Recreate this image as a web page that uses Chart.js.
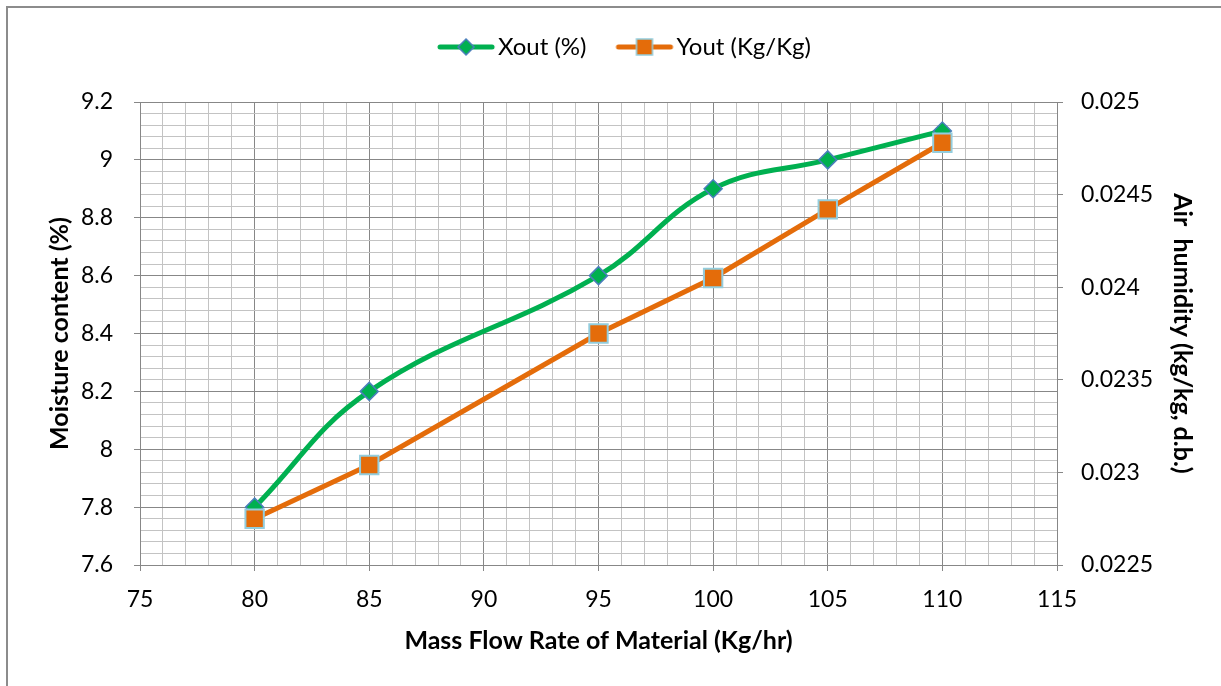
<!DOCTYPE html>
<html>
<head>
<meta charset="utf-8">
<script src="https://cdn.jsdelivr.net/npm/chart.js@4.4.1/dist/chart.umd.min.js"></script>
<style>
  html, body { margin: 0; padding: 0; background: #ffffff; overflow: hidden; }
  #frame { position: absolute; left: 6px; top: 6px; width: 1300px; height: 800px;
           border-left: 2px solid #8c8c8c; border-top: 2px solid #8c8c8c; }
  #wrap { position: absolute; left: 0; top: 0; width: 1221px; height: 686px; }
</style>
</head>
<body>
<div id="frame"></div>
<div id="wrap"><canvas id="c" width="1221" height="686"></canvas></div>
<script>
// ---- data ----
const massFlow = [80, 85, 95, 100, 105, 110];
const xoutValues = [7.8, 8.2, 8.6, 8.9, 9.0, 9.1];
const youtValues = [0.02275, 0.02304, 0.02375, 0.02405, 0.02442, 0.02478];
const seriesNames = ['Xout (%)', 'Yout (Kg/Kg)'];
const xTickRange = [75, 115, 5];          // min, max, major step
const leftTickRange = [7.6, 9.2, 0.2];
const rightTickRange = [0.0225, 0.025, 0.0005];
const axisTitles = ['Mass Flow Rate of Material (Kg/hr)', 'Moisture content (%)', 'Air  humidity (kg/kg, d.b.)'];

// ---- styles ----
const GREEN = '#00b050';
const ORANGE = '#e46c0a';
const MAJOR = '#878787';
const MINOR = '#c3c3c3';
const FONT = 'Lato, "Liberation Sans", sans-serif';
const TICK_SIZE = 23;
const TITLE_SIZE = 25;
const LEGEND_SIZE = 24;

function isMajor(v, step) {
  const r = v / step;
  return Math.abs(r - Math.round(r)) < 1e-6;
}

function legendIcon(kind) {
  const c = document.createElement('canvas');
  c.width = 76; c.height = 24;
  const g = c.getContext('2d');
  g.lineCap = 'round';
  g.lineWidth = 5;
  g.strokeStyle = kind === 'diamond' ? GREEN : ORANGE;
  g.beginPath(); g.moveTo(20, 12); g.lineTo(72, 12); g.stroke();
  const cx = 46, cy = 12;
  if (kind === 'diamond') {
    g.beginPath();
    g.moveTo(cx, cy - 8); g.lineTo(cx + 8, cy); g.lineTo(cx, cy + 8); g.lineTo(cx - 8, cy); g.closePath();
    g.fillStyle = GREEN; g.fill();
    g.lineWidth = 1.5; g.strokeStyle = '#4a7ebb'; g.stroke();
  } else {
    g.fillStyle = ORANGE;
    g.fillRect(cx - 8, cy - 8, 16, 16);
    g.lineWidth = 1.5; g.strokeStyle = '#93cddd';
    g.strokeRect(cx - 8, cy - 8, 16, 16);
  }
  return c;
}
const icons = [legendIcon('diamond'), legendIcon('square')];

// adds empty space between the legend row and the plot area
const legendGap = {
  id: 'legendGap',
  beforeLayout(chart) {
    const lg = chart.legend;
    if (lg && !lg._gapWrapped) {
      const orig = lg.fit.bind(lg);
      lg.fit = function () { orig(); this.height += 33; };
      lg._gapWrapped = true;
    }
  }
};

const ctx = document.getElementById('c').getContext('2d');
new Chart(ctx, {
  type: 'line',
  plugins: [legendGap],
  data: {
    datasets: [
      {
        label: seriesNames[0],
        data: massFlow.map((x, i) => ({ x: x, y: xoutValues[i] })),
        yAxisID: 'yLeft',
        borderColor: GREEN,
        borderWidth: 5,
        tension: 0.4,
        pointStyle: 'rectRot',
        pointRadius: 9,
        pointHoverRadius: 9,
        pointBackgroundColor: GREEN,
        pointBorderColor: '#4a7ebb',
        pointBorderWidth: 1.5,
        order: 1
      },
      {
        label: seriesNames[1],
        data: massFlow.map((x, i) => ({ x: x, y: youtValues[i] })),
        yAxisID: 'yRight',
        borderColor: ORANGE,
        borderWidth: 5,
        tension: 0,
        pointStyle: 'rect',
        pointRadius: 13,
        pointHoverRadius: 13,
        pointBackgroundColor: ORANGE,
        pointBorderColor: '#93cddd',
        pointBorderWidth: 2,
        order: 0
      }
    ]
  },
  options: {
    responsive: false,
    animation: false,
    events: [],
    layout: { padding: { top: 13, left: 20, right: 0, bottom: 0 } },
    plugins: {
      tooltip: { enabled: false },
      legend: {
        position: 'top',
        labels: {
          usePointStyle: true,
          pointStyleWidth: 56,
          padding: 22,
          color: '#000000',
          font: { family: FONT, size: LEGEND_SIZE },
          generateLabels: function (chart) {
            return [0, 1].map(i => ({
              text: chart.data.datasets[i].label,
              pointStyle: icons[i],
              fillStyle: 'transparent',
              strokeStyle: 'transparent',
              lineWidth: 0,
              hidden: false,
              datasetIndex: i,
              fontColor: '#000000'
            }));
          }
        }
      }
    },
    scales: {
      x: {
        type: 'linear',
        position: 'bottom',
        min: xTickRange[0],
        max: xTickRange[1],
        afterFit: s => { s.height = 121; },
        ticks: {
          stepSize: 1,
          autoSkip: false,
          maxRotation: 0,
          padding: 15,
          color: '#000000',
          font: { family: FONT, size: TICK_SIZE },
          callback: v => isMajor(v, xTickRange[2]) ? String(v) : ''
        },
        grid: {
          color: c => isMajor(c.tick.value, xTickRange[2]) ? MAJOR : MINOR,
          tickColor: c => isMajor(c.tick.value, xTickRange[2]) ? MAJOR : 'transparent',
          tickLength: 6,
          lineWidth: 1
        },
        border: { color: MAJOR, width: 1 },
        title: {
          display: true,
          text: axisTitles[0],
          color: '#000000',
          font: { family: FONT, size: TITLE_SIZE, weight: 'bold' },
          padding: { top: 0, bottom: 30 }
        }
      },
      yLeft: {
        type: 'linear',
        position: 'left',
        min: leftTickRange[0],
        max: leftTickRange[1],
        afterFit: s => { s.width = 120; },
        ticks: {
          stepSize: 0.04,
          autoSkip: false,
          padding: 21,
          color: '#000000',
          font: { family: FONT, size: TICK_SIZE },
          callback: v => isMajor(v, leftTickRange[2]) ? String(parseFloat(v.toFixed(1))) : ''
        },
        grid: {
          color: c => isMajor(c.tick.value, leftTickRange[2]) ? MAJOR : MINOR,
          tickColor: c => isMajor(c.tick.value, leftTickRange[2]) ? MAJOR : 'transparent',
          tickLength: 6,
          lineWidth: 1
        },
        border: { color: MAJOR, width: 1 },
        title: {
          display: true,
          text: axisTitles[1],
          color: '#000000',
          font: { family: FONT, size: TITLE_SIZE, weight: 'bold' },
          padding: { top: 25, bottom: 0 }
        }
      },
      yRight: {
        type: 'linear',
        position: 'right',
        min: rightTickRange[0],
        max: rightTickRange[1],
        afterFit: s => { s.width = 164; },
        ticks: {
          stepSize: rightTickRange[2],
          autoSkip: false,
          padding: 18,
          color: '#000000',
          font: { family: FONT, size: TICK_SIZE },
          callback: v => String(parseFloat(v.toFixed(5)))
        },
        grid: {
          drawOnChartArea: false,
          color: MAJOR,
          tickColor: MAJOR,
          tickLength: 6,
          lineWidth: 1
        },
        border: { color: MAJOR, width: 1 },
        title: {
          display: true,
          text: axisTitles[2],
          color: '#000000',
          font: { family: FONT, size: TITLE_SIZE, weight: 'bold' },
          padding: { top: 24, bottom: 0 }
        }
      }
    }
  }
});
</script>
</body>
</html>
